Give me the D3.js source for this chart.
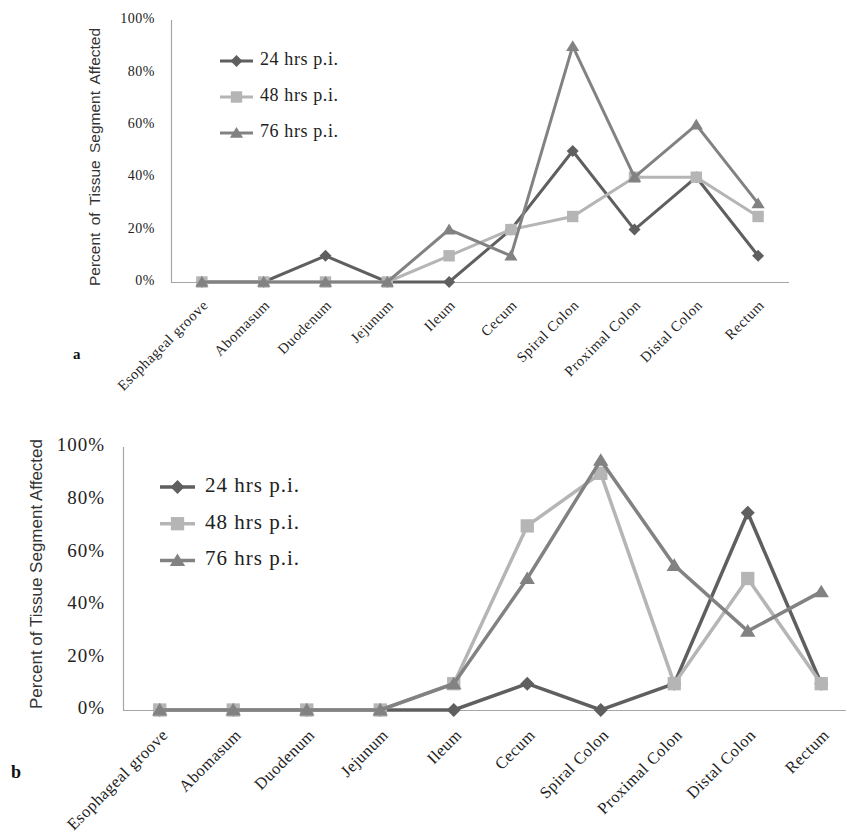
<!DOCTYPE html>
<html>
<head>
<meta charset="utf-8">
<script src="https://cdn.jsdelivr.net/npm/d3@7"></script>
<style>
  html, body { margin: 0; padding: 0; background: #fff; }
  svg { display: block; }
</style>
</head>
<body>
<svg id="chart" width="846" height="834"></svg>
<script>
// ---- data ----
const categories = ["Esophageal groove", "Abomasum", "Duodenum", "Jejunum", "Ileum",
  "Cecum", "Spiral Colon", "Proximal Colon", "Distal Colon", "Rectum"];
const seriesNames = ["24 hrs p.i.", "48 hrs p.i.", "76 hrs p.i."];
const yTicks = [0, 20, 40, 60, 80, 100];

// panel a
const a24 = [0, 0, 10, 0, 0, 20, 50, 20, 40, 10];
const a48 = [0, 0, 0, 0, 10, 20, 25, 40, 40, 25];
const a76 = [0, 0, 0, 0, 20, 10, 90, 40, 60, 30];
// panel b
const b24 = [0, 0, 0, 0, 0, 10, 0, 10, 75, 10];
const b48 = [0, 0, 0, 0, 10, 70, 90, 10, 50, 10];
const b76 = [0, 0, 0, 0, 10, 50, 95, 55, 30, 45];

const colors = ["#5f5f5f", "#b5b5b5", "#828282"];
const shapes = ["diamond", "square", "triangle"];
const serif = "'Liberation Serif', 'Times New Roman', serif";
const sans = "'Liberation Sans', Arial, sans-serif";

const svg = d3.select("#chart");

function markerPath(shape, s) {
  if (shape === "diamond") return `M0,${-s}L${s},0L0,${s}L${-s},0Z`;
  if (shape === "square") { const h = s * 0.95; return `M${-h},${-h}H${h}V${h}H${-h}Z`; }
  const w = s * 1.1, h = s;
  return `M0,${-h}L${w},${h * 0.8}L${-w},${h * 0.8}Z`;
}

function drawPanel(cfg) {
  const g = svg.append("g");
  const x = d3.scalePoint().domain(categories).range([cfg.left, cfg.right]).padding(0.5);
  const y = d3.scaleLinear().domain([0, 100]).range([cfg.bottom, cfg.top]);

  // axes lines
  g.append("line").attr("x1", cfg.left + 0.5).attr("x2", cfg.left + 0.5)
    .attr("y1", cfg.top).attr("y2", cfg.bottom).attr("stroke", "#a6a6a6").attr("stroke-width", 1.2);
  g.append("line").attr("x1", cfg.left).attr("x2", cfg.right)
    .attr("y1", cfg.bottom + 0.5).attr("y2", cfg.bottom + 0.5).attr("stroke", "#a6a6a6").attr("stroke-width", 1.2);

  // y tick labels
  g.selectAll("text.yt").data(yTicks).join("text")
    .attr("x", cfg.left - cfg.yLabelGap).attr("y", d => y(d))
    .attr("text-anchor", "end").attr("dominant-baseline", "middle")
    .attr("font-family", serif).attr("font-size", cfg.tickFont)
    .attr("letter-spacing", cfg.tickLS).attr("fill", "#222")
    .text(d => d + "%");

  // x labels
  g.selectAll("text.xt").data(categories).join("text")
    .attr("text-anchor", "end")
    .attr("transform", d => `translate(${x(d) + cfg.xlDx},${cfg.bottom + cfg.xlDy}) rotate(-45)`)
    .attr("font-family", serif).attr("font-size", cfg.xFont)
    .attr("letter-spacing", cfg.xLS).attr("fill", "#222")
    .text(d => d);

  // y title
  g.append("text")
    .attr("transform", `translate(${cfg.titleX},${cfg.titleY}) rotate(-90)`)
    .attr("text-anchor", "middle")
    .attr("font-family", sans).attr("font-size", cfg.titleFont)
    .attr("word-spacing", cfg.titleWS).attr("fill", "#333")
    .text("Percent of Tissue Segment Affected");

  // series
  const line = d3.line().x((d, i) => x(categories[i])).y(d => y(d));
  cfg.series.forEach((vals, si) => {
    g.append("path").datum(vals).attr("d", line)
      .attr("fill", "none").attr("stroke", colors[si]).attr("stroke-width", cfg.lineW)
      .attr("stroke-linejoin", "miter");
    g.selectAll(null).data(vals).join("path")
      .attr("transform", (d, i) => `translate(${x(categories[i])},${y(d)})`)
      .attr("d", markerPath(shapes[si], cfg.markerS))
      .attr("fill", colors[si]);
  });

  // legend
  seriesNames.forEach((name, si) => {
    const ly = cfg.legY + si * cfg.legStep;
    g.append("line").attr("x1", cfg.legX).attr("x2", cfg.legX + cfg.legLen)
      .attr("y1", ly).attr("y2", ly).attr("stroke", colors[si]).attr("stroke-width", cfg.lineW);
    g.append("path").attr("transform", `translate(${cfg.legX + cfg.legLen / 2},${ly})`)
      .attr("d", markerPath(shapes[si], cfg.markerS)).attr("fill", colors[si]);
    g.append("text").attr("x", cfg.legX + cfg.legLen + cfg.legGap).attr("y", ly)
      .attr("dominant-baseline", "middle")
      .attr("font-family", serif).attr("font-size", cfg.legFont)
      .attr("letter-spacing", cfg.legLS).attr("fill", "#222")
      .text(name);
  });

  // panel letter
  g.append("text").attr("x", cfg.letterX).attr("y", cfg.letterY)
    .attr("font-family", serif).attr("font-weight", "bold").attr("font-size", cfg.letterFont)
    .attr("fill", "#111").text(cfg.letter);
}

drawPanel({
  left: 171, right: 789, top: 20, bottom: 282,
  series: [a24, a48, a76],
  yLabelGap: 16, tickFont: 14, tickLS: 0.5,
  xFont: 14.5, xLS: 0.6, xlDx: 7, xlDy: 24,
  titleX: 100, titleY: 157, titleFont: 15.5, titleWS: 3,
  lineW: 3, markerS: 6,
  legX: 220, legLen: 33, legGap: 7, legY: 61, legStep: 36, legFont: 18, legLS: 0.6,
  letter: "a", letterX: 73, letterY: 359, letterFont: 15
});

drawPanel({
  left: 123, right: 858, top: 447, bottom: 710,
  series: [b24, b48, b76],
  yLabelGap: 18, tickFont: 19, tickLS: 1,
  xFont: 16.5, xLS: 0.5, xlDx: 9, xlDy: 26,
  titleX: 42, titleY: 574, titleFont: 17, titleWS: 0,
  lineW: 3.5, markerS: 7,
  legX: 160, legLen: 35, legGap: 10, legY: 487, legStep: 36.7, legFont: 21, legLS: 1,
  letter: "b", letterX: 11, letterY: 778, letterFont: 18
});
</script>
</body>
</html>
